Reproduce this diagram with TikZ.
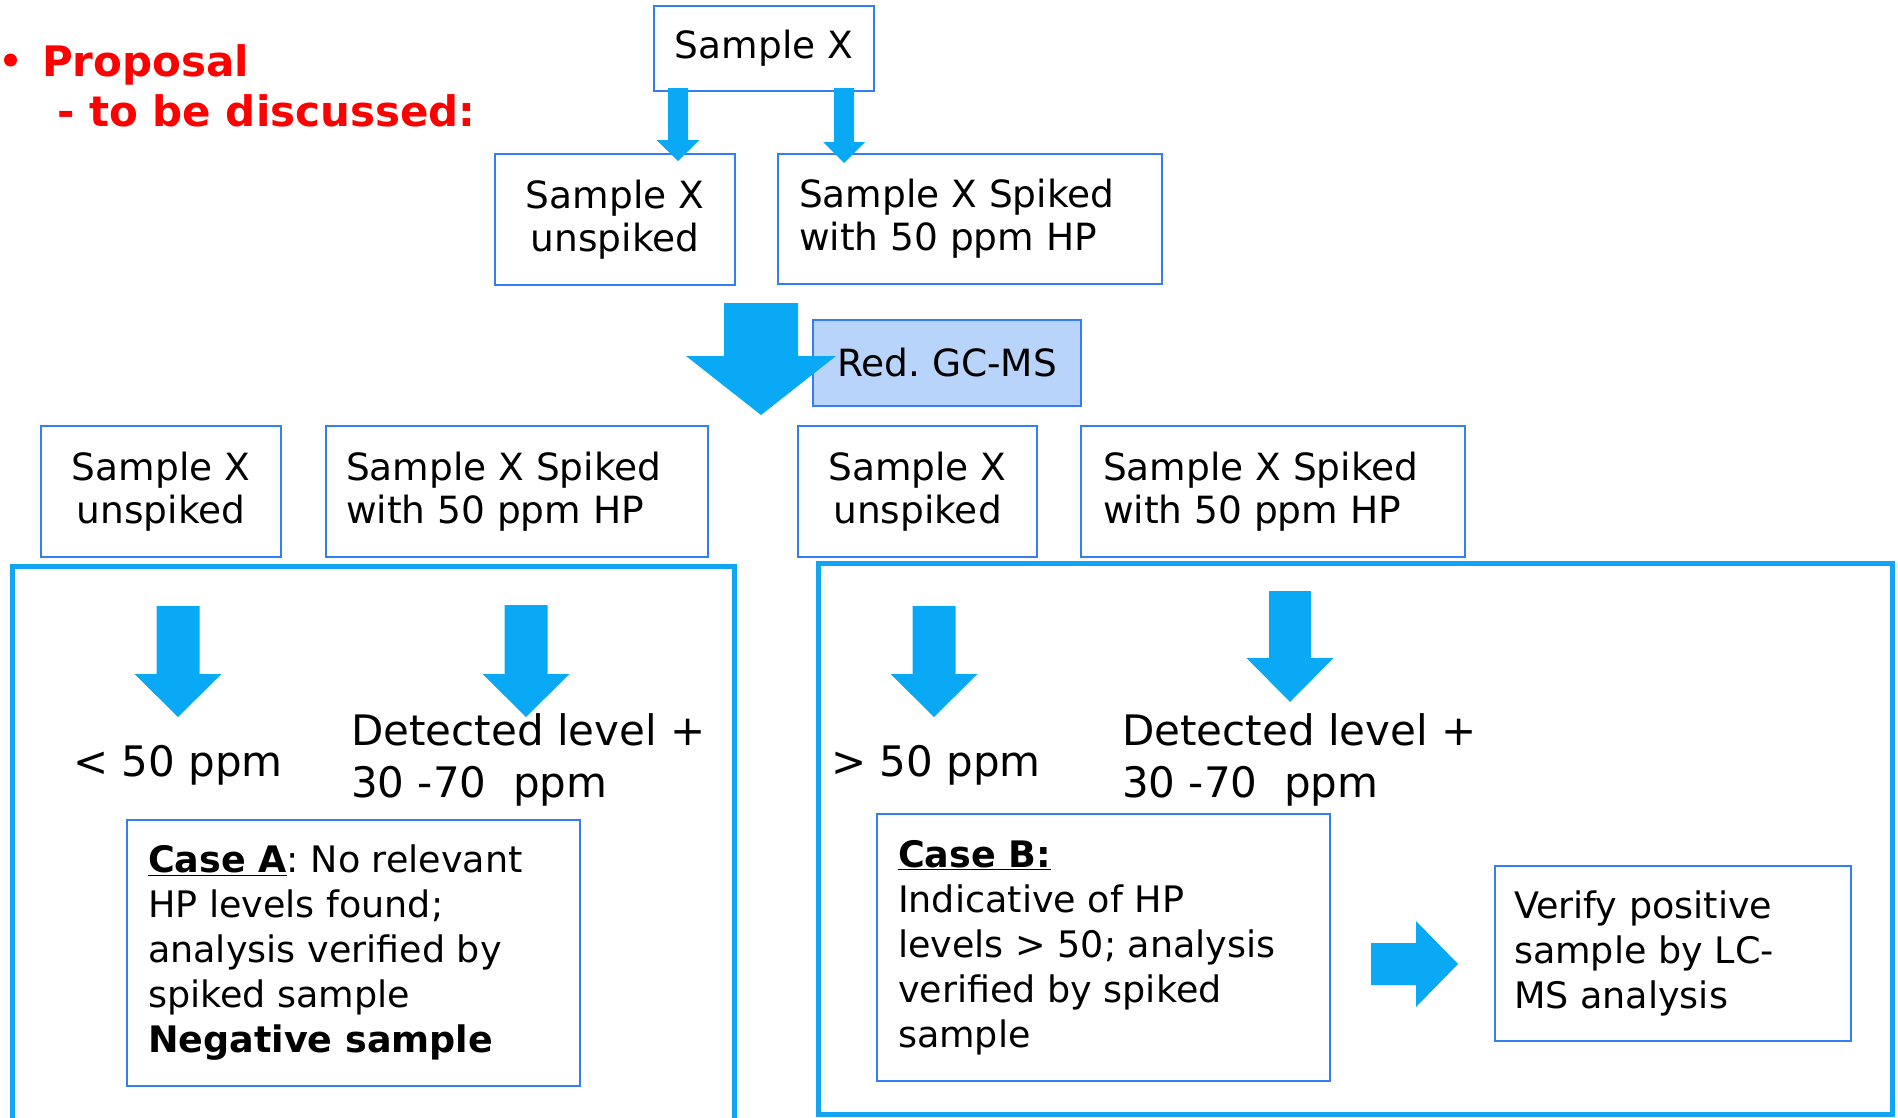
\documentclass[tikz,border=0pt]{standalone}
\usepackage{fontspec}
\setmainfont{DejaVu Sans}
\usetikzlibrary{calc}
\frenchspacing

\definecolor{arrowblue}{RGB}{10,169,245}
\definecolor{frameblue}{RGB}{18,166,242}
\definecolor{boxblue}{RGB}{52,125,243}
\definecolor{gcfill}{RGB}{184,212,250}

\begin{document}
\begin{tikzpicture}[x=1pt,y=-1pt,
    box/.style={draw=boxblue,line width=2pt,inner sep=0pt,
        font=\fontsize{37.5}{43}\selectfont},
    cbox/.style={box,align=center},
    lbox/.style={box,align=flush left},
    casebox/.style={lbox,font=\fontsize{36.5}{45}\selectfont},
    level/.style={anchor=base west,align=left,inner sep=0pt,
        font=\fontsize{42}{52}\selectfont}]
    \useasboundingbox (0,0) rectangle (1898,1117);

    % heading (base anchor sits on the last line)
    \fill[red] (10.5,60) circle (6.5pt);
    \node[anchor=base west,align=left,inner sep=0pt,text=red,
        font=\fontsize{42}{50}\selectfont\bfseries] (prop) at (42,126)
        {Proposal\\\hspace*{15pt}- to be discussed:};

    % the two frames
    \draw[frameblue,line width=5pt] (12,1130) -- (12,566.5) -- (734.5,566.5) -- (734.5,1130);
    \draw[frameblue,line width=5pt] (818.5,563.5) rectangle (1892,1114.5);

    % sample and its two portions
    \node[cbox,minimum width=220pt,minimum height=85pt] (sx) at (764,48.5) {Sample X};
    \node[cbox,minimum width=240pt,minimum height=131pt] (unsp) at (615,219.5) {Sample X\\unspiked};
    \node[lbox,minimum width=384pt,minimum height=130pt,text width=342pt] (spk) at (970,219)
        {Sample X Spiked\\with 50 ppm HP};

    % method
    \node[cbox,fill=gcfill,minimum width=268pt,minimum height=86pt] (gcms) at (947,363) {Red. GC-MS};

    % results row
    \node[cbox,minimum width=240pt,minimum height=131pt] (unspA) at (161,491.5) {Sample X\\unspiked};
    \node[lbox,minimum width=382pt,minimum height=131pt,text width=342pt] (spkA) at (517,491.5)
        {Sample X Spiked\\with 50 ppm HP};
    \node[cbox,minimum width=239pt,minimum height=131pt] (unspB) at (917.5,491.5) {Sample X\\unspiked};
    \node[lbox,minimum width=384pt,minimum height=131pt,text width=340pt] (spkB) at (1273,491.5)
        {Sample X Spiked\\with 50 ppm HP};

    % levels found
    \node[level] (lessA) at (73,776) {< 50 ppm};
    \node[level] (detA) at (351,797) {Detected level +\\30 -70\ \ ppm};
    \node[level] (moreB) at (831,776) {> 50 ppm};
    \node[level] (detB) at (1122,797) {Detected level +\\30 -70\ \ ppm};

    % outcomes
    \node[casebox,minimum width=453pt,minimum height=266pt,text width=411pt] (caseA) at (353.5,953)
        {\textbf{\underline{Case A}}: No relevant\\HP levels found;\\analysis verified by\\spiked sample\\\textbf{Negative sample}};
    \node[casebox,minimum width=453pt,minimum height=267pt,text width=411pt] (caseB) at (1103.5,947.5)
        {\textbf{\underline{Case B:}}\\Indicative of HP\\levels > 50; analysis\\verified by spiked\\sample};
    \node[casebox,minimum width=356pt,minimum height=175pt,text width=318pt] (verify) at (1673,953.5)
        {Verify positive\\sample by LC-\\MS analysis};

    % block arrows pointing down: centre x / top / head / tip / half shaft / half head
    \foreach \cx/\ty/\hy/\ey/\sw/\hw in {678/88/140/161/10/21.5, 844/88/142/163/10/21,
        761/303/356/415/37/75, 178/606/674/717/21.5/43.5, 526/605/674/717/21.5/43.5,
        934/606/674/717/21.5/43.5, 1290/591/658/702/21/43.5}{
        \fill[arrowblue] (\cx-\sw,\ty) -- (\cx+\sw,\ty) -- (\cx+\sw,\hy) -- (\cx+\hw,\hy)
            -- (\cx,\ey) -- (\cx-\hw,\hy) -- (\cx-\sw,\hy) -- cycle;
    }

    % block arrow to the LC-MS check
    \fill[arrowblue] (1371,943) -- (1416,943) -- (1416,921) -- (1458,964)
        -- (1416,1007) -- (1416,985) -- (1371,985) -- cycle;
\end{tikzpicture}
\end{document}
